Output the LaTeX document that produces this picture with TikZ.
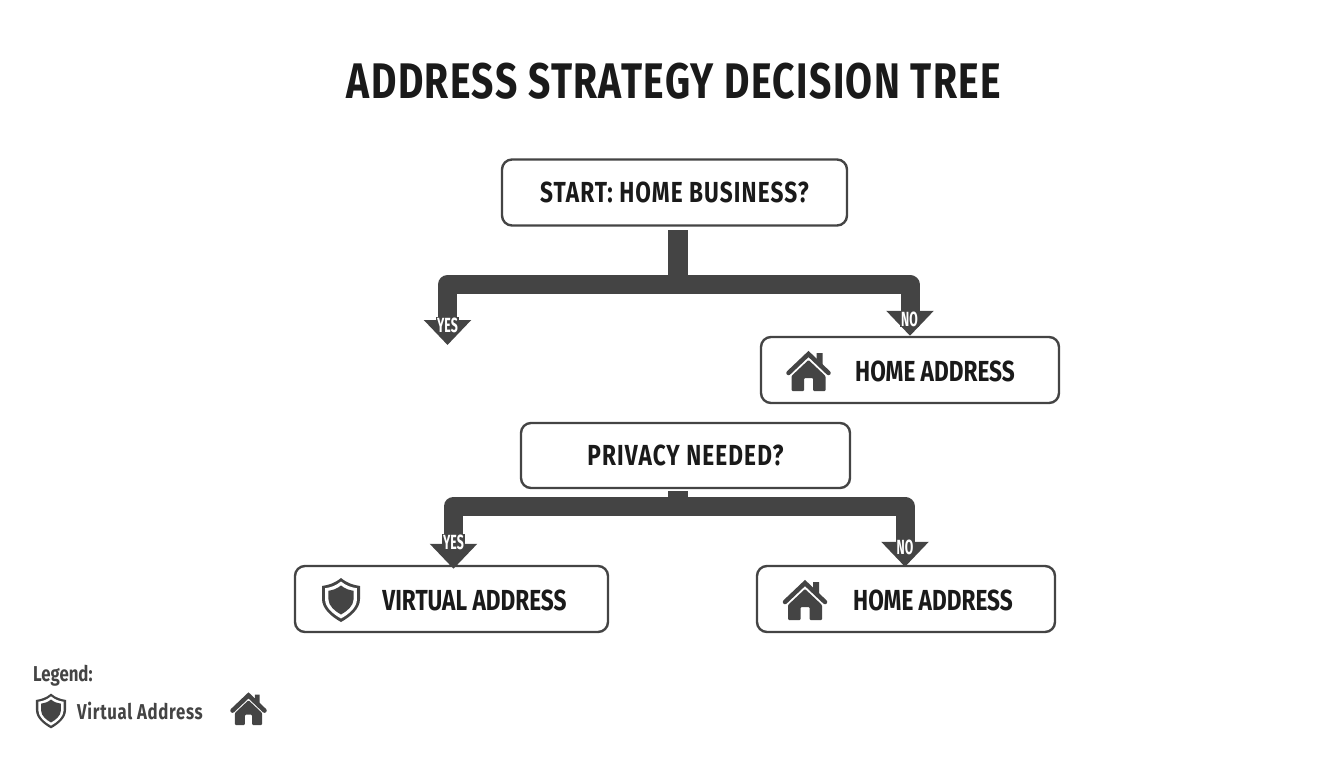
\documentclass[tikz,border=0pt]{standalone}
\usepackage{fontspec}
\usetikzlibrary{arrows.meta}
\setmainfont[FakeStretch=0.78]{Fira Sans}
\newfontfamily\narrowfont[FakeStretch=0.6]{Fira Sans}
\definecolor{inkdark}{HTML}{1A1A1A}
\definecolor{slate}{HTML}{444444}
\newcommand{\shieldpath}{(0,-22) .. controls (-6,-17) and (-12,-15) .. (-19,-14) -- (-19,-1) .. controls (-19,9) and (-9,17) .. (0,22) .. controls (9,17) and (19,9) .. (19,-1) -- (19,-14) .. controls (12,-15) and (6,-17) .. (0,-22) -- cycle}
\tikzset{
  decision/.style={draw=slate,line width=2.4pt,rounded corners=10pt,fill=white,inner sep=0pt,text=inkdark,font=\bfseries\fontsize{29}{32}\selectfont\addfontfeature{LetterSpace=3.8}},
  boxlabel/.style={text=inkdark,inner sep=0pt,font=\bfseries\fontsize{29}{32}\selectfont},
  legendlabel/.style={text=slate,inner sep=0pt,font=\fontsize{21.5}{26}\selectfont\bfseries},
  branch/.style={draw=slate,line width=19pt,line join=round,-{Triangle[width=46pt,length=25pt]}},
  stemline/.style={draw=slate,line width=20pt},
  answer/.style={fill=slate,text=white,inner sep=1pt,font=\narrowfont\bfseries\fontsize{20.5}{22}\selectfont},
  homeicon/.pic={
    \fill[slate,rounded corners=1pt] (-17,5) -- (0,-11) -- (17,5) -- (17,20) -- (4.5,20) -- (4.5,7) -- (-4.5,7) -- (-4.5,20) -- (-17,20) -- cycle;
    \fill[slate] (8,-18) -- (14,-18) -- (14,-6) -- (8,-12) -- cycle;
    \draw[slate,line width=4.5pt,line cap=round] (-20,2) -- (0,-17) -- (20,2);
  },
  shieldicon/.pic={
    \fill[slate] \shieldpath;
    \fill[white,scale=0.84] \shieldpath;
    \fill[slate,scale=0.66] \shieldpath;
  }
}
\begin{document}
\begin{tikzpicture}[x=1pt,y=-1pt]
\useasboundingbox (0,0) rectangle (1344,768);
\node [text=inkdark,inner sep=0pt,font=\bfseries\fontsize{50}{54}\selectfont\addfontfeature{LetterSpace=2.8}] (title) at (674,81) {ADDRESS STRATEGY DECISION TREE};

% boxes
\node [decision,minimum width=345pt,minimum height=66pt] (start) at (674.5,192.5) {START: HOME BUSINESS?};
\node [decision,minimum width=298pt,minimum height=66pt] (homeA) at (910,370) {};
\node [decision,minimum width=329pt,minimum height=65pt] (privacy) at (685.5,455.5) {PRIVACY NEEDED?};
\node [decision,minimum width=313pt,minimum height=66pt] (virtual) at (451.5,599) {};
\node [decision,minimum width=298pt,minimum height=66pt] (homeB) at (906,599) {};
\node [boxlabel] (homeAtext) at (935,371) {HOME ADDRESS};
\node [boxlabel] (virtualtext) at (474.5,600) {VIRTUAL ADDRESS};
\node [boxlabel] (homeBtext) at (933,600) {HOME ADDRESS};
\pic at (808.5,371) {homeicon};
\pic at (805,600) {homeicon};
\pic at (341,600) {shieldicon};

% first split
\coordinate (stemA) at (678,230);
\coordinate (hubA) at (678,284.5);
\coordinate (yesA) at (447.5,345);
\draw [stemline] (stemA) -- (hubA);
\draw [branch] (hubA) -| (yesA);
\draw [branch] (hubA) -| (homeA.north);
\node [answer] (yesAtext) at (447.5,325) {YES};
\node [answer] (noAtext) at (909.5,319) {NO};

% second split
\coordinate (stemB) at (678,491);
\coordinate (hubB) at (678,506);
\draw [stemline] (stemB) -- (hubB);
\draw [branch] (hubB) -| ([xshift=2pt,yshift=-4pt]virtual.north);
\draw [branch] (hubB) -| ([xshift=-1pt,yshift=-2pt]homeB.north);
\node [answer] (yesBtext) at (453.5,542) {YES};
\node [answer] (noBtext) at (905,547) {NO};

% legend
\node [legendlabel,anchor=west] (legend) at (33,676) {Legend:};
\pic [scale=0.79] at (51,711) {shieldicon};
\node [legendlabel,anchor=west,font=\fontsize{21.5}{26}\selectfont\bfseries\addfontfeature{LetterSpace=3.2}] (legendvirtual) at (77,711) {Virtual Address};
\pic [scale=0.8] at (248.5,709) {homeicon};
\end{tikzpicture}
\end{document}
